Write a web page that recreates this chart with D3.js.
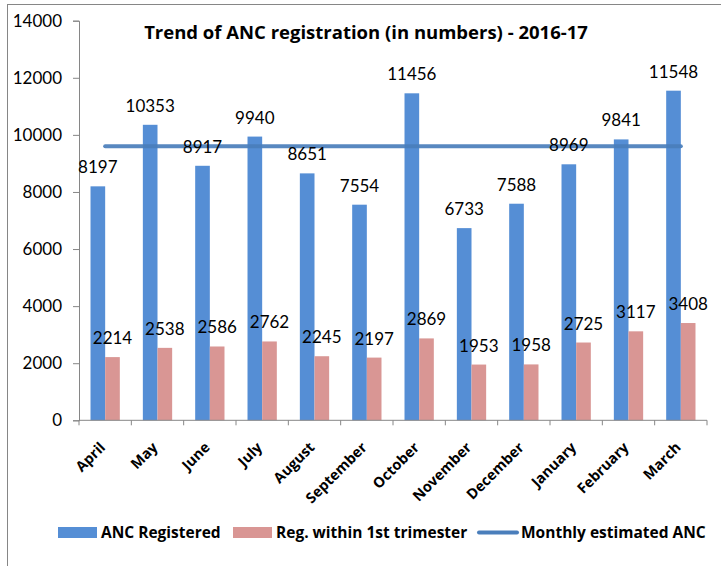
<!DOCTYPE html>
<html><head><meta charset="utf-8">
<script src="https://cdn.jsdelivr.net/npm/d3@7"></script>
<style>
html,body{margin:0;padding:0;background:#fff;}
svg{display:block;font-family:Lato,"Open Sans",sans-serif;}
.bold{font-family:"Open Sans",Lato,sans-serif;font-weight:bold;}
</style></head>
<body><svg id="chart" width="721" height="566"></svg>
<script>
const months = ["April","May","June","July","August","September","October","November","December","January","February","March"];
const ancRegistered = [8197,10353,8917,9940,8651,7554,11456,6733,7588,8969,9841,11548];
const regFirstTrimester = [2214,2538,2586,2762,2245,2197,2869,1953,1958,2725,3117,3408];
const monthlyEstimated = [9600,9600,9600,9600,9600,9600,9600,9600,9600,9600,9600,9600];
const yTicks = [0,2000,4000,6000,8000,10000,12000,14000];
const seriesNames = ["ANC Registered","Reg. within 1st trimester","Monthly estimated ANC"];
const titleText = "Trend of ANC registration (in numbers) - 2016-17";

(function(){
const colors = {blue:"#558ED5", pink:"#D99694", line:"#4A7EBB", axis:"#868686"};
const svg = d3.select("#chart");
const pL = 79, pR = 707, pT = 20.7, pB = 420.3;

svg.append("rect").attr("x",7.5).attr("y",4.5).attr("width",740).attr("height",600)
  .attr("fill","none").attr("stroke",colors.axis).attr("stroke-width",1);

const x = d3.scaleBand().domain(months).range([pL,pR]).padding(0);
const bw = x.bandwidth();
const x1 = d3.scaleBand().domain(["a","b"]).range([bw*0.22, bw*0.78]).padding(0);
const y = d3.scaleLinear().domain([0,14000]).range([pB,pT]);

const yAxis = svg.append("g").attr("transform",`translate(${pL},0)`)
  .call(d3.axisLeft(y).tickValues(yTicks).tickSize(6).tickPadding(11).tickFormat(d3.format("d")));
yAxis.select(".domain").attr("stroke",colors.axis);
yAxis.selectAll(".tick line").attr("stroke",colors.axis);
yAxis.selectAll("text").attr("font-size",17).attr("fill","#000").attr("font-family","Lato,sans-serif");

const g = svg.append("g");
g.selectAll(".b1").data(months).join("rect")
  .attr("x",d=>x(d)+x1("a")).attr("width",x1.bandwidth())
  .attr("y",(d,i)=>y(ancRegistered[i])).attr("height",(d,i)=>pB-y(ancRegistered[i]))
  .attr("fill",colors.blue);
g.selectAll(".b2").data(months).join("rect")
  .attr("x",d=>x(d)+x1("b")).attr("width",x1.bandwidth())
  .attr("y",(d,i)=>y(regFirstTrimester[i])).attr("height",(d,i)=>pB-y(regFirstTrimester[i]))
  .attr("fill",colors.pink);

const xAxis = svg.append("g").attr("transform",`translate(0,${pB})`);
xAxis.append("line").attr("x1",pL).attr("x2",pR).attr("stroke",colors.axis);
const xb = months.map(m=>x(m)).concat([pR]);
xAxis.selectAll(".tk").data(xb).join("line")
  .attr("x1",d=>d).attr("x2",d=>d).attr("y1",0).attr("y2",5).attr("stroke",colors.axis);
xAxis.selectAll(".lbl").data(months).join("text").attr("class","bold")
  .attr("transform",d=>`translate(${x(d)+bw/2+1},${28}) rotate(-45)`)
  .attr("text-anchor","end")
  .attr("font-size",14.5).text(d=>d);

const line = d3.line().x((d,i)=>x(months[i])+bw/2).y(d=>y(d));
svg.append("path").datum(monthlyEstimated).attr("d",line)
  .attr("fill","none").attr("stroke",colors.line).attr("stroke-width",4)
  .attr("stroke-linecap","round").attr("opacity",0.92);

svg.selectAll(".l1").data(months).join("text")
  .attr("x",d=>x(d)+x1("a")+x1.bandwidth()/2).attr("y",(d,i)=>y(ancRegistered[i])-13)
  .attr("text-anchor","middle").attr("font-size",17).text((d,i)=>ancRegistered[i]);
svg.selectAll(".l2").data(months).join("text")
  .attr("x",d=>x(d)+x1("b")+x1.bandwidth()/2).attr("y",(d,i)=>y(regFirstTrimester[i])-13)
  .attr("text-anchor","middle").attr("font-size",17).text((d,i)=>regFirstTrimester[i]);

svg.append("text").attr("class","bold").attr("x",366).attr("y",39).attr("text-anchor","middle")
  .attr("font-size",18.5).text(titleText);

const lg = svg.append("g").attr("font-size",15.5).attr("class","bold");
lg.append("rect").attr("x",58).attr("y",527).attr("width",39).attr("height",11).attr("fill",colors.blue);
lg.append("text").attr("x",101).attr("y",538).text(seriesNames[0]);
lg.append("rect").attr("x",233).attr("y",527).attr("width",39).attr("height",11).attr("fill",colors.pink);
lg.append("text").attr("x",276).attr("y",538).text(seriesNames[1]);
lg.append("line").attr("x1",479).attr("x2",517).attr("y1",532.5).attr("y2",532.5)
  .attr("stroke",colors.line).attr("stroke-width",4).attr("stroke-linecap","round");
lg.append("text").attr("x",521).attr("y",538).text(seriesNames[2]);
})();
</script></body></html>
